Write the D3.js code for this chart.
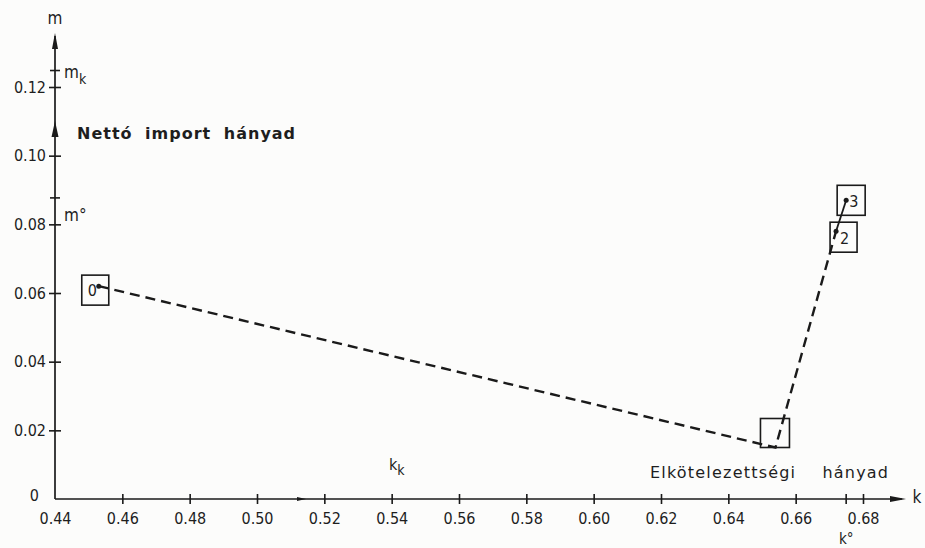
<!DOCTYPE html>
<html>
<head>
<meta charset="utf-8">
<script src="https://cdn.jsdelivr.net/npm/d3@7"></script>
<style>
  body { margin: 0; background: #fcfcfb; }
  svg { display: block; }
  text { font-family: "DejaVu Sans Condensed", "DejaVu Sans", sans-serif; fill: #1e1e1e; }
</style>
</head>
<body>
<div id="chart"></div>
<script>
// data
var kValues = [0.453, 0.654, 0.672, 0.675];
var mValues = [0.062, 0.015, 0.078, 0.087];
var pointLabels = ["0", "", "2", "3"];
var xTicks = [0.44, 0.46, 0.48, 0.50, 0.52, 0.54, 0.56, 0.58, 0.60, 0.62, 0.64, 0.66, 0.68];
var yTicks = [0, 0.02, 0.04, 0.06, 0.08, 0.10, 0.12];
var kStar = 0.675;
var mStar = 0.0877;
var mK = 0.1248;

var width = 925, height = 548;
var ink = "#1a1a1a";

var svg = d3.select("#chart").append("svg")
  .attr("width", width)
  .attr("height", height);

var x = d3.scaleLinear().domain([0.44, 0.68]).range([55, 863]);
var y = d3.scaleLinear().domain([0, 0.12]).range([499, 87]);

var fmt = function(d) { return d === 0 ? "0" : d3.format(".2f")(d); };

// x axis
var gx = svg.append("g").attr("transform", "translate(0," + y(0) + ")")
  .call(d3.axisBottom(x).tickValues(xTicks).tickSize(5).tickFormat(fmt));
gx.select(".domain").remove();
gx.selectAll(".tick line").attr("y1", -5).attr("y2", 5).attr("stroke", ink).attr("stroke-width", 1.6);
gx.selectAll(".tick text").attr("y", 14).attr("font-size", 16).attr("fill", ink)
  .style("font-family", "'DejaVu Sans Condensed', sans-serif");
gx.selectAll(".tick").filter(function(d) { return d === 0.44; }).select("line").remove();

// y axis
var gy = svg.append("g").attr("transform", "translate(" + x(0.44) + ",0)")
  .call(d3.axisLeft(y).tickValues(yTicks).tickSize(5).tickFormat(fmt));
gy.select(".domain").remove();
gy.selectAll(".tick line").attr("x1", -6).attr("x2", 6).attr("stroke", ink).attr("stroke-width", 1.6);
gy.selectAll(".tick text").attr("x", -9).attr("font-size", 16).attr("fill", ink)
  .style("font-family", "'DejaVu Sans Condensed', sans-serif");
gy.selectAll(".tick").filter(function(d) { return d === 0; }).select("line").remove();
gy.selectAll(".tick").filter(function(d) { return d === 0; }).select("text").attr("dy", "0.1em").attr("x", -16);

// axis lines with arrows
svg.append("line").attr("x1", x(0.44)).attr("y1", y(0)).attr("x2", 902).attr("y2", y(0))
  .attr("stroke", ink).attr("stroke-width", 1.7);
svg.append("line").attr("x1", x(0.44)).attr("y1", y(0)).attr("x2", x(0.44)).attr("y2", 36)
  .attr("stroke", ink).attr("stroke-width", 1.7);

function arrow(px, py, dir, len, half) {
  var p = dir === "up"
    ? [[px, py], [px - half, py + len], [px + half, py + len]]
    : [[px, py], [px - len, py - half], [px - len, py + half]];
  svg.append("path").attr("d", d3.line()(p) + "Z").attr("fill", ink);
}
arrow(x(0.44), 33, "up", 16, 3);
arrow(x(0.44), 121, "up", 16, 3.5);
arrow(906, y(0), "right", 16, 3);
arrow(306, y(0), "right", 9, 2);

// extra ticks
svg.append("line").attr("x1", x(kStar)).attr("x2", x(kStar)).attr("y1", y(0) - 5).attr("y2", y(0) + 5)
  .attr("stroke", ink).attr("stroke-width", 1.6);
[mStar, mK].forEach(function(v) {
  svg.append("line").attr("x1", x(0.44) - 5).attr("x2", x(0.44) + 5).attr("y1", y(v)).attr("y2", y(v))
    .attr("stroke", ink).attr("stroke-width", 1.6);
});

// axis labels
svg.append("text").attr("x", x(0.44)).attr("y", 24).attr("text-anchor", "middle").attr("font-size", 17).text("m");
svg.append("text").attr("x", 917).attr("y", 503).attr("text-anchor", "middle").attr("font-size", 17).text("k");

var mk = svg.append("text").attr("x", 64).attr("y", y(mK) + 7).attr("font-size", 17);
mk.append("tspan").text("m");
mk.append("tspan").attr("dy", 6).attr("font-size", 14).text("k");

svg.append("text").attr("x", 64).attr("y", y(mStar) + 23).attr("font-size", 17).text("m°");

var kk = svg.append("text").attr("x", 389).attr("y", 470).attr("font-size", 16);
kk.append("tspan").text("k");
kk.append("tspan").attr("dy", 5).attr("font-size", 14).text("k");

svg.append("text").attr("x", x(kStar)).attr("y", 544).attr("text-anchor", "middle").attr("font-size", 15).text("k°");

svg.append("text").attr("x", 77).attr("y", 139).attr("font-size", 16).attr("font-weight", "bold")
  .attr("letter-spacing", 1).style("font-family", "'DejaVu Sans', sans-serif")
  .attr("word-spacing", 6).text("Nettó import hányad");
svg.append("text").attr("x", 650).attr("y", 478).attr("font-size", 16)
  .attr("letter-spacing", 1.2).style("font-family", "'DejaVu Sans', sans-serif")
  .attr("word-spacing", 20).text("Elkötelezettségi hányad");

// path through the points
var pts = kValues.map(function(k, i) { return [x(k), y(mValues[i])]; });
svg.append("path").attr("d", d3.line()(pts.slice(0, 3)))
  .attr("fill", "none").attr("stroke", ink).attr("stroke-width", 2.4).attr("stroke-dasharray", "10,6");
svg.append("path").attr("d", d3.line()(pts.slice(2, 4)))
  .attr("fill", "none").attr("stroke", ink).attr("stroke-width", 1.8);

// boxes around the points (offsets in pixels from the point)
var boxOffsets = [[-17, -11, 27, 30], [-15, -29, 29, 29], [-6, -9, 27, 30], [-9, -15, 28, 30]];
var labelOffsets = [[-11, 10], [0, 0], [4, 13], [3, 7]];

svg.selectAll(".box").data(pts).enter().append("rect")
  .attr("class", "box")
  .attr("x", function(d, i) { return d[0] + boxOffsets[i][0]; })
  .attr("y", function(d, i) { return d[1] + boxOffsets[i][1]; })
  .attr("width", function(d, i) { return boxOffsets[i][2]; })
  .attr("height", function(d, i) { return boxOffsets[i][3]; })
  .attr("fill", "none").attr("stroke", ink).attr("stroke-width", 1.6);

svg.selectAll(".dot").data(pts).enter().append("circle")
  .attr("cx", function(d) { return d[0]; })
  .attr("cy", function(d) { return d[1]; })
  .attr("r", function(d, i) { return pointLabels[i] === "" ? 0 : 2.5; })
  .attr("fill", ink);

svg.selectAll(".plabel").data(pts).enter().append("text")
  .attr("x", function(d, i) { return d[0] + labelOffsets[i][0]; })
  .attr("y", function(d, i) { return d[1] + labelOffsets[i][1]; })
  .attr("font-size", 16)
  .text(function(d, i) { return pointLabels[i]; });
</script>
</body>
</html>
